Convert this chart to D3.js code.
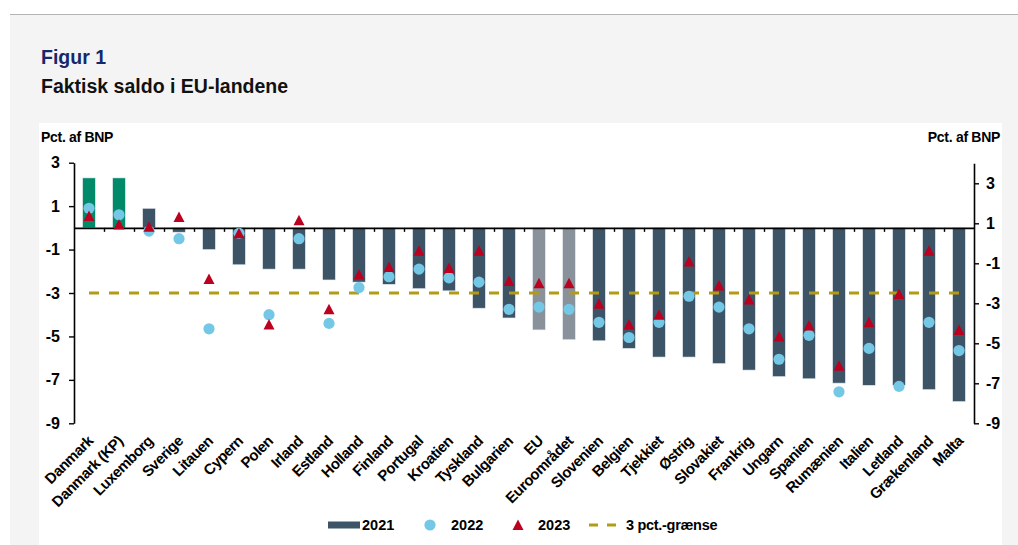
<!DOCTYPE html>
<html>
<head>
<meta charset="utf-8">
<script src="https://cdn.jsdelivr.net/npm/d3@7"></script>
<style>
  body { margin: 0; background: #fff; font-family: "Liberation Sans", Arial, sans-serif; }
  svg text { font-family: "Liberation Sans", Arial, sans-serif; font-weight: bold; }
</style>
</head>
<body>
<div id="chart-area"></div>
<script>
var categories = ["Danmark","Danmark (KP)","Luxemborg","Sverige","Litauen","Cypern","Polen","Irland","Estland","Holland",
  "Finland","Portugal","Kroatien","Tyskland","Bulgarien","EU","Euroområdet","Slovenien","Belgien","Tjekkiet",
  "Østrig","Slovakiet","Frankrig","Ungarn","Spanien","Rumænien","Italien","Letland","Grækenland","Malta"];

var v2021 = [2.3, 2.3, 0.9, -0.2, -1.0, -1.7, -1.9, -1.9, -2.4, -2.5,
  -2.6, -2.8, -2.9, -3.7, -4.15, -4.7, -5.15, -5.2, -5.55, -5.95,
  -5.95, -6.25, -6.55, -6.85, -6.95, -7.15, -7.25, -7.25, -7.45, -8.0];

var v2022 = [0.9, 0.6, -0.15, -0.5, -4.65, -0.25, -4.0, -0.5, -4.4, -2.75,
  -2.25, -1.9, -2.3, -2.5, -3.75, -3.65, -3.75, -4.35, -5.05, -4.35,
  -3.15, -3.65, -4.65, -6.05, -4.95, -7.55, -5.55, -7.3, -4.35, -5.65];

var v2023 = [0.55, 0.15, 0.05, 0.5, -2.35, -0.25, -4.45, 0.35, -3.75, -2.15,
  -1.8, -1.05, -1.85, -1.05, -2.45, -2.55, -2.55, -3.5, -4.45, -4.0,
  -1.55, -2.65, -3.3, -5.0, -4.5, -6.35, -4.35, -3.05, -1.05, -4.7];

var limit = -3;
var leftTicks = [3, 1, -1, -3, -5, -7, -9];
var rightTicks = [3, 1, -1, -3, -5, -7, -9];
var greenCats = ["Danmark", "Danmark (KP)"];
var grayCats = ["EU", "Euroområdet"];
var seriesNames = ["2021", "2022", "2023", "3 pct.-grænse"];

var colBar = "#3c5465", colGreen = "#008a6a", colGray = "#89919a";
var colDot = "#74c8e6", colTri = "#bb0020", colLine = "#b39b17";

var W = 1018, H = 545;
var svg = d3.select("#chart-area").append("svg").attr("width", W).attr("height", H);

// page frame
svg.append("rect").attr("x", 10).attr("y", 15).attr("width", W - 10).attr("height", H - 15).attr("fill", "#f4f4f4");
svg.append("line").attr("x1", 10).attr("x2", W).attr("y1", 14.5).attr("y2", 14.5).attr("stroke", "#b4b4b4").attr("stroke-width", 1);
svg.append("rect").attr("x", 39).attr("y", 123).attr("width", 963).attr("height", H - 123).attr("fill", "#fff");

svg.append("text").attr("x", 41).attr("y", 64).attr("font-size", "19.5px").attr("fill", "#14296b").text("Figur 1");
svg.append("text").attr("x", 41).attr("y", 93).attr("font-size", "19.5px").attr("fill", "#111").text("Faktisk saldo i EU-landene");

var x = d3.scaleBand().domain(categories).range([74, 974]).paddingInner(0.577).paddingOuter(0.2885);
var y = d3.scaleLinear().domain([3, -9]).range([162.7, 423.3]);
var yR = d3.scaleLinear().domain([4, -9]).range([163.3, 423.3]);
var xEdge = d3.scaleLinear().domain([0, categories.length]).range([74, 974]);

var g = svg.append("g");

// axis titles
g.append("text").attr("x", 41).attr("y", 142).attr("font-size", "14px").attr("letter-spacing", "-0.3").text("Pct. af BNP");
g.append("text").attr("x", 1000).attr("y", 142).attr("font-size", "14px").attr("letter-spacing", "-0.3").attr("text-anchor", "end").text("Pct. af BNP");

// bars 2021
var rows = categories.map(function(c, i) { return {cat: c, a: v2021[i], b: v2022[i], c: v2023[i]}; });

g.selectAll("rect.bar").data(rows).enter().append("rect")
  .attr("class", "bar")
  .attr("x", function(d) { return x(d.cat); })
  .attr("width", x.bandwidth())
  .attr("y", function(d) { return y(Math.max(0, d.a)); })
  .attr("height", function(d) { return Math.abs(y(d.a) - y(0)); })
  .attr("fill", function(d) {
    if (greenCats.indexOf(d.cat) >= 0) return colGreen;
    if (grayCats.indexOf(d.cat) >= 0) return colGray;
    return colBar;
  })
  .attr("stroke", "#e4eaee").attr("stroke-width", 0.6);

// 3 pct line
g.append("line")
  .attr("x1", x(categories[0]) + x.bandwidth() / 2)
  .attr("x2", x(categories[categories.length - 1]) + x.bandwidth() / 2)
  .attr("y1", y(limit)).attr("y2", y(limit))
  .attr("stroke", colLine).attr("stroke-width", 3).attr("stroke-dasharray", "10,10");

// zero axis with boundary ticks
var zeroAxis = d3.axisBottom(xEdge).tickValues(d3.range(1, categories.length)).tickFormat("").tickSize(4).tickSizeOuter(0);
g.append("g").attr("transform", "translate(0," + y(0) + ")").call(zeroAxis)
  .call(function(s) { s.select(".domain").attr("stroke-width", 1.6); s.selectAll(".tick line").attr("stroke-width", 1.4); });

// 2022 circles
g.selectAll("circle.dot").data(rows).enter().append("circle")
  .attr("class", "dot")
  .attr("cx", function(d) { return x(d.cat) + x.bandwidth() / 2; })
  .attr("cy", function(d) { return y(d.b); })
  .attr("r", 5.6)
  .attr("fill", colDot);

// 2023 triangles
var tri = "M0,-5.5L5.5,5L-5.5,5Z";
g.selectAll("path.tri").data(rows).enter().append("path")
  .attr("class", "tri")
  .attr("d", tri)
  .attr("transform", function(d) { return "translate(" + (x(d.cat) + x.bandwidth() / 2) + "," + y(d.c) + ")"; })
  .attr("fill", colTri);

// y axes
var fmt = function(d) { return String(d); };
var yAxisL = d3.axisLeft(y).tickValues(leftTicks).tickFormat(fmt).tickSize(5).tickSizeOuter(0).tickPadding(9);
g.append("g").attr("transform", "translate(74,0)").call(yAxisL)
  .call(function(s) {
    s.select(".domain").attr("stroke-width", 1.6);
    s.selectAll(".tick line").attr("stroke-width", 1.4);
    s.selectAll("text").attr("font-size", "16px").attr("fill", "#000");
  });

var yAxisR = d3.axisRight(yR).tickValues(rightTicks).tickFormat(fmt).tickSize(5).tickSizeOuter(0).tickPadding(7);
g.append("g").attr("transform", "translate(974,0)").call(yAxisR)
  .call(function(s) {
    s.select(".domain").attr("stroke-width", 1.6);
    s.selectAll(".tick line").attr("stroke-width", 1.4);
    s.selectAll("text").attr("font-size", "16px").attr("fill", "#000");
  });

// category labels
g.selectAll("text.cat").data(categories).enter().append("text")
  .attr("class", "cat")
  .attr("transform", function(c) { return "translate(" + (x(c) + x.bandwidth() / 2 + 5) + ",442) rotate(-45)"; })
  .attr("text-anchor", "end")
  .attr("font-size", "15px")
  .attr("letter-spacing", "-0.5")
  .text(function(c) { return c; });

// legend
var leg = g.append("g").attr("transform", "translate(0,525)");
leg.append("rect").attr("x", 328).attr("y", -3.5).attr("width", 32).attr("height", 7).attr("fill", colBar);
leg.append("text").attr("x", 362).attr("y", 5).attr("font-size", "14.5px").text(seriesNames[0]);
leg.append("circle").attr("cx", 430).attr("cy", 0).attr("r", 5.6).attr("fill", colDot);
leg.append("text").attr("x", 451).attr("y", 5).attr("font-size", "14.5px").text(seriesNames[1]);
leg.append("path").attr("d", tri).attr("transform", "translate(518,0)").attr("fill", colTri);
leg.append("text").attr("x", 538).attr("y", 5).attr("font-size", "14.5px").text(seriesNames[2]);
leg.append("line").attr("x1", 589).attr("x2", 616).attr("y1", 0).attr("y2", 0)
  .attr("stroke", colLine).attr("stroke-width", 3).attr("stroke-dasharray", "9,9");
leg.append("text").attr("x", 626).attr("y", 5).attr("font-size", "14.5px").attr("letter-spacing", "-0.3").text(seriesNames[3]);
</script>
</body>
</html>
